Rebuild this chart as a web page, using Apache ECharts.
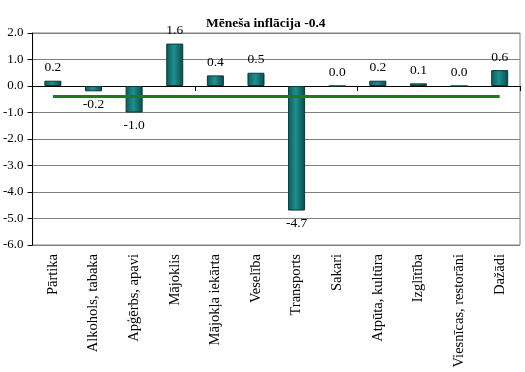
<!DOCTYPE html>
<html>
<head>
<meta charset="utf-8">
<script src="https://cdn.jsdelivr.net/npm/echarts@6/dist/echarts.min.js"></script>
<style>
html,body{margin:0;padding:0;background:#fff;}
#chart{width:525px;height:372px;}
</style>
</head>
<body>
<div id="chart"></div>
<script>
var titleText = 'Mēneša inflācija -0.4';
var categories = ['Pārtika','Alkohols, tabaka','Apģērbs, apavi','Mājoklis','Mājokļa iekārta','Veselība','Transports','Sakari','Atpūta, kultūra','Izglītība','Viesnīcas, restorāni','Dažādi'];
var values = [0.2, -0.2, -1.0, 1.6, 0.4, 0.5, -4.7, 0.0, 0.2, 0.1, 0.0, 0.6];
var inflationLine = [-0.4, -0.4, -0.4, -0.4, -0.4, -0.4, -0.4, -0.4, -0.4, -0.4, -0.4, -0.4];
var yTicks = {min: -6, max: 2, interval: 1};

var serif = '"Liberation Serif","Times New Roman",serif';
var chart = echarts.init(document.getElementById('chart'));
var barData = values.map(function (v) {
  return {
    value: v,
    label: {position: v < 0 ? 'bottom' : 'top'}
  };
});
chart.setOption({
  animation: false,
  backgroundColor: '#fff',
  title: {
    text: titleText,
    left: 201, top: 12,
    textStyle: {fontFamily: serif, fontSize: 13.5, fontWeight: 'bold', color: '#000'}
  },
  grid: {left: 32, right: 5, top: 33, bottom: 127, show: true, borderColor: '#808080', borderWidth: 1, containLabel: false},
  xAxis: [{
    type: 'category',
    data: categories,
    position: 'bottom',
    axisLine: {show: false, onZero: false},
    axisTick: {show: false},
    axisLabel: {rotate: 90, margin: 9, fontFamily: serif, fontSize: 14.5, color: '#000', interval: 0}
  }, {
    type: 'category',
    data: categories,
    position: 'bottom',
    axisLine: {show: true, onZero: true, lineStyle: {color: '#000', width: 1}},
    axisTick: {show: true, length: 5, lineStyle: {color: '#000'}},
    axisLabel: {show: false}
  }],
  yAxis: {
    type: 'value',
    min: yTicks.min, max: yTicks.max, interval: yTicks.interval,
    axisLine: {show: true, lineStyle: {color: '#000'}},
    axisTick: {show: true, length: 5, lineStyle: {color: '#000'}},
    splitLine: {show: true, lineStyle: {color: '#808080', width: 1}},
    axisLabel: {margin: 9, fontFamily: serif, fontSize: 13, color: '#000', formatter: function (v) { return v.toFixed(1); }}
  },
  series: [{
    type: 'bar',
    xAxisIndex: 0,
    data: barData,
    barWidth: 17,
    itemStyle: {
      color: new echarts.graphic.LinearGradient(0, 0, 1, 0, [
        {offset: 0, color: '#0c5a5a'},
        {offset: 0.45, color: '#1f8f8f'},
        {offset: 1, color: '#0a4a4a'}
      ]),
      borderColor: '#083838', borderWidth: 1
    },
    label: {
      show: true, distance: 6,
      fontFamily: serif, fontSize: 13.5, color: '#000',
      formatter: function (p) { return p.value.toFixed(1); }
    },
    z: 2
  }, {
    type: 'line',
    xAxisIndex: 0,
    data: inflationLine,
    symbol: 'none',
    lineStyle: {color: '#1e7a1e', width: 3},
    z: 3
  }]
});
</script>
</body>
</html>
